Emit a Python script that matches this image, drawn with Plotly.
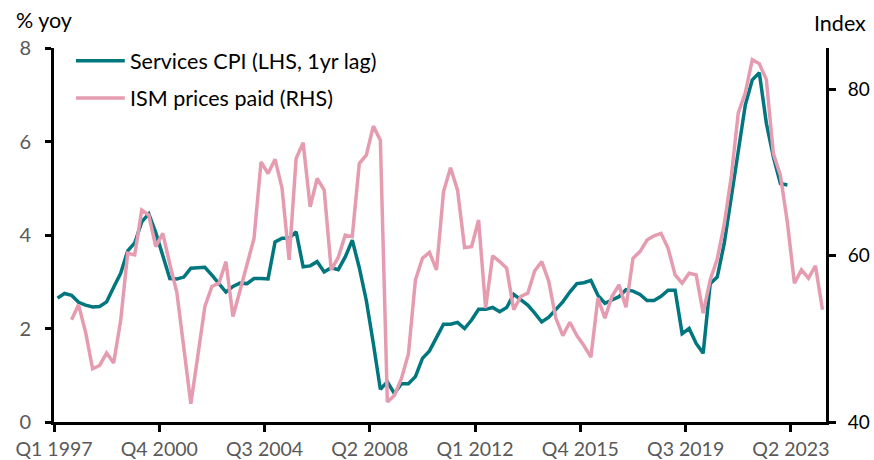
import numpy as np
import plotly.graph_objects as go

# Quarters Q1 1997 .. Q2 2024 (110 categories)
quarters = [f"Q{q} {y}" for y in range(1997, 2025) for q in range(1, 5)][:110]

tick_labels = ["Q1 1997", "Q4 2000", "Q3 2004", "Q2 2008",
               "Q1 2012", "Q4 2015", "Q3 2019", "Q2 2023"]

# Services CPI, % yoy (LHS, 1yr lag) - Q1 1997 .. Q1 2023
services_cpi = [
    2.65, 2.75, 2.71, 2.56, 2.50, 2.46, 2.47, 2.57, 2.88, 3.18,
    3.66, 3.83, 4.28, 4.45, 4.05, 3.58, 3.07, 3.06, 3.10, 3.29,
    3.30, 3.31, 3.14, 2.96, 2.78, 2.90, 2.97, 2.96, 3.07, 3.07,
    3.06, 3.85, 3.93, 3.93, 4.07, 3.32, 3.34, 3.43, 3.21, 3.30,
    3.26, 3.53, 3.89, 3.30, 2.60, 1.68, 0.70, 0.86, 0.61, 0.82,
    0.82, 0.97, 1.36, 1.52, 1.82, 2.09, 2.09, 2.13, 2.00, 2.18,
    2.41, 2.41, 2.45, 2.36, 2.45, 2.73, 2.62, 2.50, 2.33, 2.14,
    2.24, 2.41, 2.57, 2.78, 2.96, 2.98, 3.03, 2.71, 2.54, 2.61,
    2.68, 2.83, 2.80, 2.73, 2.60, 2.60, 2.69, 2.82, 2.82, 1.89,
    2.00, 1.68, 1.47, 2.96, 3.10, 3.82, 4.82, 5.82, 6.78, 7.32,
    7.47, 6.39, 5.67, 5.10, 5.07,
]

# ISM prices paid, index (RHS) - Q1 1997 .. Q2 2024
ism_prices_paid = [
    None, None, 52.3, 54.1, 50.8, 46.4, 46.8, 48.3, 47.1, 52.2,
    60.3, 60.1, 65.5, 64.9, 61.1, 62.7, 59.0, 55.6, 48.9, 42.2,
    48.0, 53.9, 56.3, 56.7, 59.3, 52.7, 55.8, 58.8, 62.1, 71.3,
    69.9, 71.6, 68.1, 59.5, 71.7, 73.6, 65.9, 69.3, 67.9, 58.3,
    59.8, 62.5, 62.3, 71.1, 72.1, 75.6, 73.9, 42.4, 43.2, 45.2,
    48.2, 57.1, 59.7, 60.4, 58.3, 67.7, 70.6, 67.9, 61.0, 61.1,
    64.3, 53.7, 60.0, 59.3, 58.5, 53.5, 55.1, 55.5, 58.2, 59.3,
    56.9, 52.5, 50.4, 52.0, 50.4, 49.2, 47.8, 54.9, 52.5, 55.1,
    56.5, 53.8, 59.7, 60.5, 61.9, 62.4, 62.7, 60.9, 57.7, 56.7,
    57.9, 57.7, 53.1, 57.1, 59.6, 63.8, 69.5, 77.2, 79.6, 83.6,
    83.1, 81.2, 72.3, 69.7, 64.0, 56.7, 58.3, 57.3, 58.8, 53.5,
]

TEAL = "#00777E"
PINK = "#E69CB0"
GRAY = "#595959"
FONT = "Lato"

# category centres: each quarter sits in the middle of its slot
x_cpi = np.arange(len(services_cpi)) + 0.5
x_ism = np.arange(len(ism_prices_paid)) + 0.5
tick_pos = [quarters.index(t) for t in tick_labels]

fig = go.Figure()
fig.add_trace(go.Scatter(
    x=x_cpi, y=services_cpi, mode="lines", name="Services CPI (LHS, 1yr lag)",
    line=dict(color=TEAL, width=3.5), yaxis="y", showlegend=False,
))
fig.add_trace(go.Scatter(
    x=x_ism, y=ism_prices_paid, mode="lines", name="ISM prices paid (RHS)",
    line=dict(color=PINK, width=3.5), yaxis="y2", showlegend=False,
    connectgaps=False,
))

fig.update_layout(
    width=874, height=460,
    margin=dict(l=54, r=48, t=48, b=38),
    paper_bgcolor="white", plot_bgcolor="white",
    font=dict(family=FONT, size=19, color="black"),
    xaxis=dict(
        range=[0, len(quarters)], tickvals=tick_pos, ticktext=tick_labels,
        showgrid=False, zeroline=False, showline=True, linecolor="black",
        linewidth=3, ticks="outside", ticklen=7, tickwidth=3, tickcolor="black",
        tickfont=dict(family=FONT, size=19.5, color=GRAY), ticklabelstandoff=1,
        automargin=False,
    ),
    yaxis=dict(
        range=[0, 8], dtick=2, showgrid=False, zeroline=False, showline=True,
        linecolor="black", linewidth=3, ticks="outside", ticklen=6, tickwidth=3,
        tickcolor="black", tickfont=dict(family=FONT, size=20, color=GRAY),
        ticklabelstandoff=10, automargin=False,
    ),
    yaxis2=dict(
        range=[40, 85], tickvals=[40, 60, 80], overlaying="y", side="right",
        showgrid=False, zeroline=False, showline=True, linecolor="black",
        linewidth=3, ticks="outside", ticklen=7, tickwidth=3, tickcolor="black",
        tickfont=dict(family=FONT, size=19, color="black"), ticklabelstandoff=8,
        automargin=False,
    ),
)

# axis unit titles
fig.add_annotation(text="% yoy", xref="paper", yref="paper", x=-0.0124, y=1.074,
                   showarrow=False, xanchor="center", yanchor="middle",
                   font=dict(family=FONT, size=21.5, color="black"))
fig.add_annotation(text="Index", xref="paper", yref="paper", x=1.0185, y=1.067,
                   showarrow=False, xanchor="center", yanchor="middle",
                   font=dict(family=FONT, size=21.5, color="black"))

# legend (drawn manually to match the long line samples)
legend_items = [("Services CPI (LHS, 1yr lag)", TEAL, 0.966),
                ("ISM prices paid (RHS)", PINK, 0.866)]
for label, color, yy in legend_items:
    fig.add_shape(type="line", xref="paper", yref="paper",
                  x0=0.0285, x1=0.0917, y0=yy, y1=yy,
                  line=dict(color=color, width=3.5))
    fig.add_annotation(text=label, xref="paper", yref="paper", x=0.0956, y=yy,
                       showarrow=False, xanchor="left", yanchor="middle",
                       font=dict(family=FONT, size=21.5, color="black"))

# remove the browser's default page margin so the figure fills the window
fig.write_html("out.html",
               config={"displayModeBar": False},
               post_script="document.body.style.margin='0px';"
                           "document.body.style.overflow='hidden';")
